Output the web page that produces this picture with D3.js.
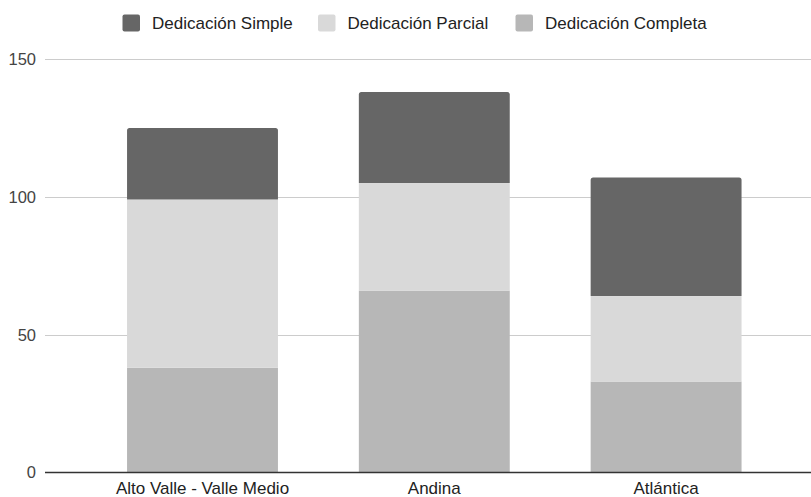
<!DOCTYPE html>
<html>
<head>
<meta charset="utf-8">
<script src="https://cdn.jsdelivr.net/npm/d3@7"></script>
<style>
  html, body { margin: 0; padding: 0; background: #fff; }
  svg { display: block; font-family: "Liberation Sans", Arial, sans-serif; }
</style>
</head>
<body>
<svg id="chart" width="811" height="497"></svg>
<script>
// Regions and staff counts by type of dedication
const regions = ["Alto Valle - Valle Medio", "Andina", "Atlántica"];
const completa = [38, 66, 33];
const parcial = [61, 39, 31];
const simple = [26, 33, 43];
const yTicks = [0, 50, 100, 150];

const seriesNames = ["Dedicación Completa", "Dedicación Parcial", "Dedicación Simple"];
const seriesColors = ["#b7b7b7", "#d9d9d9", "#666666"];
const legendOrder = ["Dedicación Simple", "Dedicación Parcial", "Dedicación Completa"];

const rows = regions.map((r, i) => ({
  region: r,
  "Dedicación Completa": completa[i],
  "Dedicación Parcial": parcial[i],
  "Dedicación Simple": simple[i]
}));

const svg = d3.select("#chart");
const plotLeft = 45, plotRight = 811;
const bandLeft = 86.6, bandRight = 782;

const y = d3.scaleLinear().domain([0, 150]).range([472.5, 59]);
const x = d3.scaleBand().domain(regions).range([bandLeft, bandRight]).paddingInner(0.349).paddingOuter(0.1745);
const color = d3.scaleOrdinal().domain(seriesNames).range(seriesColors);

// Gridlines
svg.append("g").selectAll("line")
  .data(yTicks.filter(t => t > 0))
  .join("line")
  .attr("x1", plotLeft).attr("x2", plotRight)
  .attr("y1", d => Math.round(y(d)) + 0.5).attr("y2", d => Math.round(y(d)) + 0.5)
  .attr("stroke", "#cccccc").attr("stroke-width", 1);

// Y tick labels
svg.append("g").selectAll("text")
  .data(yTicks)
  .join("text")
  .attr("x", 36).attr("y", d => y(d))
  .attr("dy", "0.36em")
  .attr("text-anchor", "end")
  .attr("font-size", 16.5)
  .attr("fill", "#444")
  .text(d => d);

// Stacked bars
const stacked = d3.stack().keys(seriesNames)(rows);
const topKey = seriesNames[seriesNames.length - 1];

const layers = svg.append("g").selectAll("g")
  .data(stacked)
  .join("g")
  .attr("fill", d => color(d.key));

layers.each(function(layer) {
  const g = d3.select(this);
  layer.forEach(seg => {
    const x0 = x(seg.data.region), w = x.bandwidth();
    const yTop = y(seg[1]), yBot = y(seg[0]);
    if (layer.key === topKey) {
      const r = 2.5;
      const p = d3.path();
      p.moveTo(x0, yBot);
      p.lineTo(x0, yTop + r);
      p.quadraticCurveTo(x0, yTop, x0 + r, yTop);
      p.lineTo(x0 + w - r, yTop);
      p.quadraticCurveTo(x0 + w, yTop, x0 + w, yTop + r);
      p.lineTo(x0 + w, yBot);
      p.closePath();
      g.append("path").attr("d", p.toString());
    } else {
      g.append("rect")
        .attr("x", x0).attr("y", yTop)
        .attr("width", w).attr("height", yBot - yTop);
    }
  });
});

// Baseline
svg.append("line")
  .attr("x1", plotLeft).attr("x2", plotRight)
  .attr("y1", y(0)).attr("y2", y(0))
  .attr("stroke", "#333333").attr("stroke-width", 1.5);

// X axis labels
svg.append("g").selectAll("text")
  .data(regions)
  .join("text")
  .attr("x", d => x(d) + x.bandwidth() / 2)
  .attr("y", 494)
  .attr("text-anchor", "middle")
  .attr("font-size", 17)
  .attr("fill", "#222")
  .text(d => d);

// Legend
const legendX = [122.5, 318, 515.5];
const legend = svg.append("g").selectAll("g")
  .data(legendOrder)
  .join("g")
  .attr("transform", (d, i) => `translate(${legendX[i]},14.5)`);
legend.append("rect")
  .attr("width", 17.5).attr("height", 17).attr("rx", 2)
  .attr("fill", d => color(d));
legend.append("text")
  .attr("x", 29.5).attr("y", 8.5).attr("dy", "0.36em")
  .attr("font-size", 17)
  .attr("fill", "#222")
  .text(d => d);
</script>
</body>
</html>
